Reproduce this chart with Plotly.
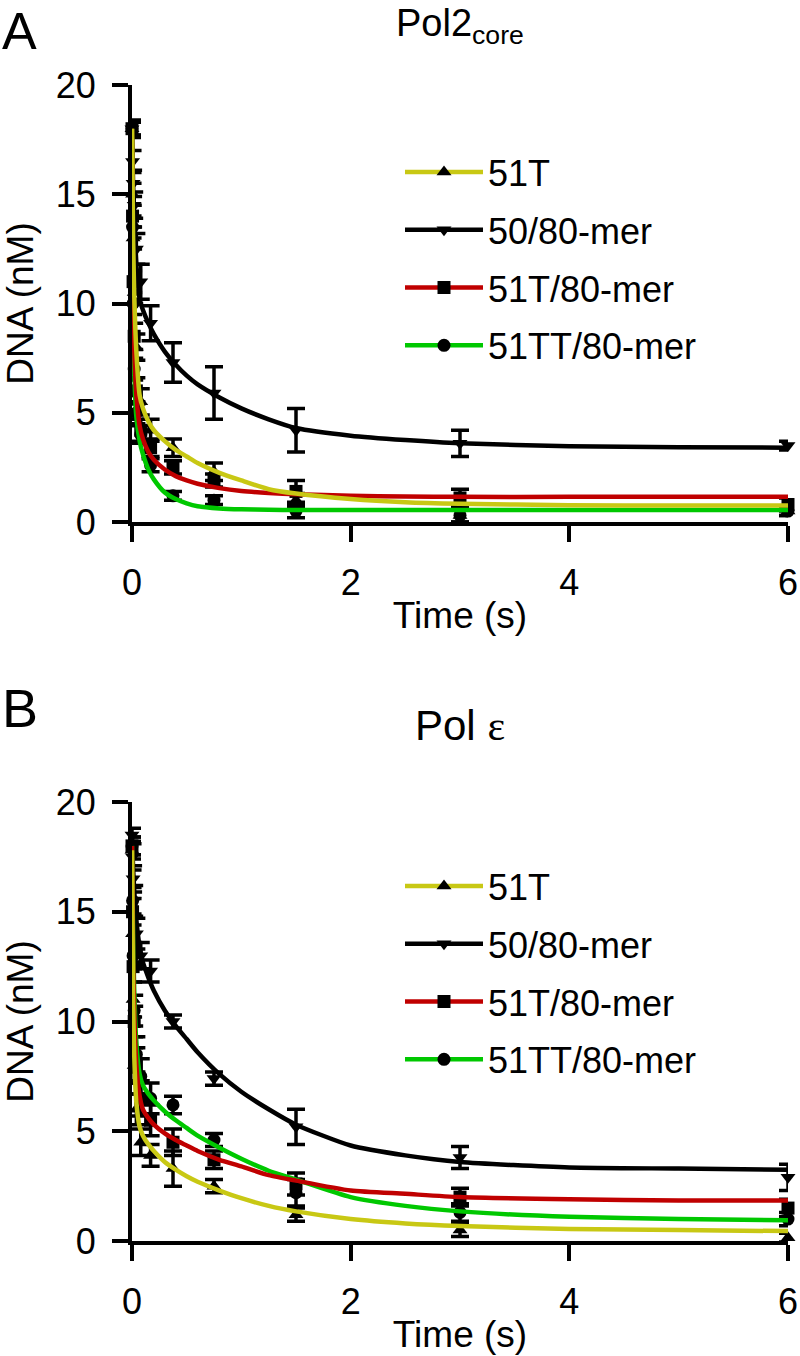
import plotly.graph_objects as go

# ---------------- data ----------------
series_names = ["51T", "50/80-mer", "51T/80-mer", "51TT/80-mer"]
fit_colors = ["#C8C814", "#000000", "#C00000", "#00C800"]
symbols = ["triangle-up", "triangle-down", "square", "circle"]

# measurement times (s)
t_data = [0, 0.005, 0.01, 0.02, 0.04, 0.08, 0.17, 0.375, 0.75, 1.5, 3, 6]

# Panel A (Pol2core) measured DNA (nM) and error
a_51T = [18.0, 15.0, 13.0, 10.5, 8.0, 5.5, 4.2, 3.4, 2.3, 1.0, 0.3, 0.5]
a_51T_err = [0.3, 0.5, 0.5, 0.5, 0.6, 0.6, 0.5, 0.4, 0.4, 0.3, 0.3, 0.2]
a_50 = [18.0, 16.5, 15.5, 14.5, 12.5, 11.0, 9.1, 7.3, 5.9, 4.2, 3.6, 3.5]
a_50_err = [0.4, 0.5, 0.6, 0.6, 0.7, 0.8, 0.8, 0.9, 1.2, 1.0, 0.6, 0.2]
a_51T80 = [18.0, 14.0, 11.0, 8.5, 6.0, 4.2, 3.4, 2.5, 1.9, 1.4, 1.1, 0.8]
a_51T80_err = [0.3, 0.5, 0.5, 0.6, 0.6, 0.5, 0.4, 0.3, 0.3, 0.5, 0.4, 0.3]
a_51TT80 = [18.0, 13.5, 10.0, 7.0, 5.0, 4.0, 2.6, 1.2, 1.0, 0.5, 0.3, 0.5]
a_51TT80_err = [0.3, 0.5, 0.5, 0.5, 0.5, 0.4, 0.3, 0.2, 0.2, 0.3, 0.3, 0.2]

# Panel B (Pol epsilon)
b_51T = [17.8, 14.0, 11.0, 8.0, 6.0, 4.5, 3.9, 3.3, 2.5, 1.2, 0.5, 0.15]
b_51T_err = [0.4, 0.8, 0.8, 0.8, 0.7, 0.6, 0.5, 0.8, 0.3, 0.3, 0.3, 0.2]
b_50 = [18.5, 17.5, 16.5, 15.5, 14.0, 13.0, 12.3, 10.0, 7.4, 5.2, 3.8, 2.9]
b_50_err = [0.3, 0.6, 0.6, 0.7, 0.7, 0.6, 0.5, 0.3, 0.3, 0.8, 0.5, 0.6]
b_51T80 = [18.0, 15.0, 12.5, 10.0, 8.0, 6.5, 5.5, 4.5, 3.7, 2.6, 2.0, 1.5]
b_51T80_err = [0.4, 0.6, 0.7, 0.7, 0.8, 0.8, 0.7, 0.6, 0.4, 0.5, 0.4, 0.4]
b_51TT80 = [18.0, 15.5, 13.0, 10.5, 8.5, 7.5, 6.5, 6.2, 4.6, 2.2, 1.3, 1.0]
b_51TT80_err = [0.4, 0.6, 0.6, 0.7, 0.8, 0.8, 0.7, 0.4, 0.3, 0.6, 0.4, 0.3]

# fitted curves
t_fit = [0, 0.01, 0.02, 0.04, 0.07, 0.1, 0.15, 0.2, 0.3, 0.4, 0.5, 0.6, 0.8,
         1.0, 1.25, 1.5, 2, 2.5, 3, 4, 5, 6]
a_fit_51T = [18, 13, 10.5, 7.8, 5.8, 5.2, 4.6, 4.2, 3.7, 3.3, 3.0, 2.7, 2.25,
             1.9, 1.5, 1.3, 1.05, 0.9, 0.83, 0.77, 0.75, 0.75]
a_fit_50 = [18, 15.5, 13.8, 11.8, 10.2, 9.7, 9.1, 8.6, 7.8, 7.2, 6.7, 6.3, 5.7,
            5.2, 4.7, 4.3, 3.95, 3.75, 3.6, 3.47, 3.42, 3.4]
a_fit_51T80 = [18, 11, 8, 5.8, 4.4, 3.8, 3.2, 2.85, 2.4, 2.1, 1.9, 1.75, 1.55,
               1.42, 1.33, 1.27, 1.2, 1.17, 1.15, 1.15, 1.15, 1.15]
a_fit_51TT80 = [18, 10, 7, 4.8, 3.7, 3.1, 2.4, 1.95, 1.35, 1.05, 0.85, 0.72, 0.62,
                0.58, 0.56, 0.55, 0.55, 0.55, 0.55, 0.55, 0.55, 0.55]
b_fit_51T = [17.8, 11, 8.5, 6.3, 5.2, 4.8, 4.4, 4.1, 3.6, 3.25, 2.95, 2.7, 2.3,
             1.95, 1.6, 1.35, 1.0, 0.8, 0.68, 0.55, 0.5, 0.45]
b_fit_50 = [18.5, 17, 16, 14.6, 13.4, 12.7, 12.0, 11.4, 10.5, 9.8, 9.2, 8.6, 7.6,
            6.8, 6.0, 5.3, 4.35, 3.9, 3.6, 3.35, 3.3, 3.25]
b_fit_51T80 = [18, 13, 10.5, 8, 6.6, 6.0, 5.6, 5.3, 4.9, 4.6, 4.35, 4.1, 3.7,
               3.4, 3.0, 2.75, 2.3, 2.15, 2.0, 1.9, 1.85, 1.85]
b_fit_51TT80 = [18, 14, 11.5, 9, 7.6, 7.1, 6.7, 6.4, 5.9, 5.5, 5.15, 4.8, 4.25,
                3.75, 3.2, 2.8, 2.0, 1.6, 1.35, 1.1, 1.0, 0.95]

panel_titles = ["Pol2<sub>core</sub>", "Pol <span style='font-family:Liberation Serif'>ε</span>"]
panel_letters = ["A", "B"]
x_ticks = [0, 2, 4, 6]
y_ticks = [0, 5, 10, 15, 20]

# ---------------- figure ----------------
FONT = "Liberation Sans, Arial, sans-serif"
fig = go.Figure()

panels = [
    dict(xa="x", ya="y", legend="legend",
         data=[(a_51T, a_51T_err), (a_50, a_50_err), (a_51T80, a_51T80_err), (a_51TT80, a_51TT80_err)],
         fits=[a_fit_51T, a_fit_50, a_fit_51T80, a_fit_51TT80]),
    dict(xa="x2", ya="y2", legend="legend2",
         data=[(b_51T, b_51T_err), (b_50, b_50_err), (b_51T80, b_51T80_err), (b_51TT80, b_51TT80_err)],
         fits=[b_fit_51T, b_fit_50, b_fit_51T80, b_fit_51TT80]),
]

for k, p in enumerate(panels):
    for i, (vals, errs) in enumerate(p["data"]):
        fig.add_trace(go.Scatter(
            x=t_data, y=vals, mode="markers", xaxis=p["xa"], yaxis=p["ya"],
            marker=dict(symbol=symbols[i], color="black", size=13),
            error_y=dict(type="data", array=errs, color="black", thickness=3.5, width=9),
            showlegend=False, cliponaxis=False))
    for i in [1, 3, 2, 0]:
        fig.add_trace(go.Scatter(
            x=t_fit, y=p["fits"][i], mode="lines", xaxis=p["xa"], yaxis=p["ya"],
            line=dict(color=fit_colors[i], width=4.5, shape="spline", smoothing=0.6),
            showlegend=False, cliponaxis=False))
    for i in range(4):
        fig.add_trace(go.Scatter(
            x=[None], y=[None], mode="lines+markers", xaxis=p["xa"], yaxis=p["ya"],
            name=series_names[i], legend=p["legend"], legendgroup=f"g{k}{i}",
            line=dict(color=fit_colors[i], width=4.5),
            marker=dict(symbol=symbols[i], color="black", size=13)))

axis_common = dict(
    showline=True, linecolor="black", linewidth=4, mirror=False,
    ticks="outside", ticklen=16, tickwidth=4, tickcolor="black",
    showgrid=False, zeroline=False, automargin=False,
    tickfont=dict(family=FONT, size=36, color="black"),
)
H = 1356.0
xdom = [132 / 800, 788 / 800]
ydomA = [1 - 522 / H, 1 - 85 / H]
ydomB = [1 - 1241 / H, 1 - 802 / H]

xax = dict(axis_common, range=[0, 6], tickvals=x_ticks, ticklabelstandoff=10,
           title=dict(text="Time (s)", font=dict(size=37), standoff=1))
yax = dict(axis_common, range=[0, 20], tickvals=y_ticks, ticklabelstandoff=9,
           title=dict(text="DNA (nM)", font=dict(size=37), standoff=22))

leg = dict(xanchor="left", yanchor="top", font=dict(size=36), itemwidth=78,
           bgcolor="rgba(0,0,0,0)", tracegroupgap=8, traceorder="grouped")

fig.update_layout(
    width=800, height=1356,
    margin=dict(l=0, r=0, t=0, b=0),
    paper_bgcolor="white", plot_bgcolor="white",
    font=dict(family=FONT, color="black"),
    xaxis=dict(xax, domain=xdom, anchor="y"),
    yaxis=dict(yax, domain=ydomA, anchor="x"),
    xaxis2=dict(xax, domain=xdom, anchor="y2"),
    yaxis2=dict(yax, domain=ydomB, anchor="x2"),
    legend=dict(leg, x=400 / 800, y=1 - 142 / H),
    legend2=dict(leg, x=400 / 800, y=1 - 856 / H),
    annotations=[
        dict(text=panel_letters[0], x=0, y=1, xref="paper", yref="paper",
             xanchor="left", yanchor="top", showarrow=False, font=dict(size=52)),
        dict(text=panel_titles[0], x=460 / 800, y=1, xref="paper", yref="paper",
             xanchor="center", yanchor="top", showarrow=False, font=dict(size=38)),
        dict(text=panel_letters[1], x=0, y=1 - 708 / H, xref="paper", yref="paper",
             xanchor="left", yanchor="middle", showarrow=False, font=dict(size=54)),
        dict(text=panel_titles[1], x=460 / 800, y=1 - 725 / H, xref="paper", yref="paper",
             xanchor="center", yanchor="middle", showarrow=False, font=dict(size=42)),
    ],
)

fig.write_html(
    "out.html",
    config={"displayModeBar": False},
    post_script="document.body.style.margin='0';document.body.style.padding='0';"
                "document.body.style.overflow='hidden';",
)
